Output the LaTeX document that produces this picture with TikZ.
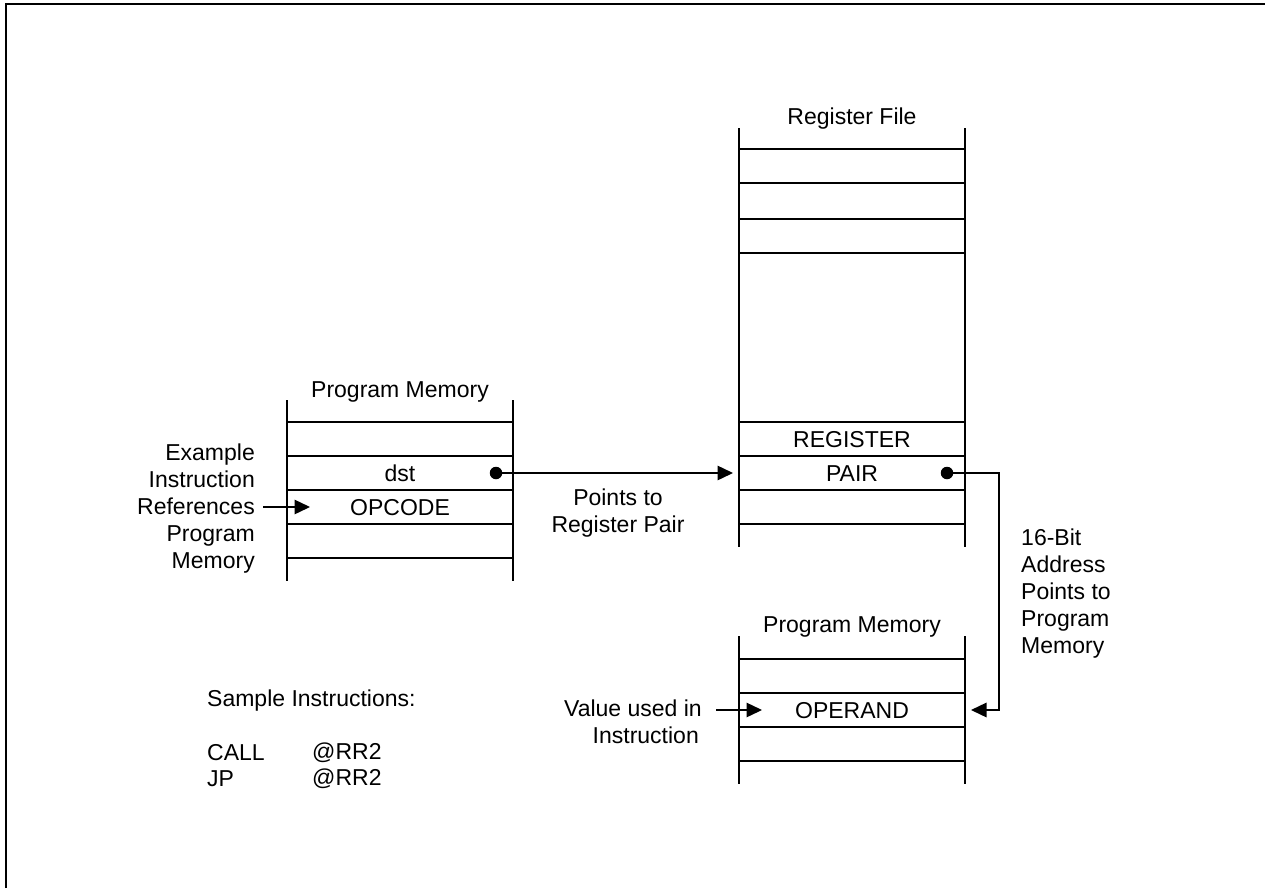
\documentclass[tikz,border=0pt]{standalone}
\usepackage{fontspec}
\setmainfont{Liberation Sans}
\usetikzlibrary{arrows.meta}
\tikzset{
 x=1pt,y=-1pt,
 rail/.style={line width=1.7pt,line cap=butt},
 row/.style={line width=1.4pt},
 frameline/.style={line width=2.2pt},
 wire/.style={line width=1.4pt},
 tip/.style={-{Triangle[length=15.5pt,width=14.5pt]}},
 dot/.style={circle,fill=black,inner sep=0pt,minimum size=12.5pt},
 txt/.style={inner sep=0pt,font=\fontsize{23}{27}\selectfont,text=black},
 cell/.style={txt,anchor=center},
 lab/.style={txt,align=right,anchor=east},
 labl/.style={txt,align=left,anchor=west},
}
\begin{document}
\begin{tikzpicture}
\useasboundingbox (0,0) rectangle (1265,888);
\draw[frameline] (6,888) -- (6,4) -- (1265,4);
% left memory
\draw[rail] (287,400) -- (287,581);
\draw[rail] (513,400) -- (513,581);
\foreach \y in {422,456,490,524,558} \draw[row] (287,\y) -- (513,\y);
\node[cell] (pm1) at (400,392) {Program Memory};
\node[cell] (dst) at (400,473) {dst};
\node[cell] (opc) at (400,508) {OPCODE};
\node[lab] (ex) at (255,509) {Example\\Instruction\\References\\Program\\Memory};
% register file
\draw[rail] (739,128) -- (739,547);
\draw[rail] (965,128) -- (965,547);
\foreach \y in {149,183,219,253,422,456,490,524} \draw[row] (739,\y) -- (965,\y);
\node[cell] (rf) at (852,119) {Register File};
\node[cell] (reg) at (852,440) {REGISTER};
\node[cell] (pair) at (852,474) {PAIR};
\node[txt,align=center] (pts) at (618,513) {Points to\\Register Pair};
% lower memory
\draw[rail] (739,636) -- (739,784);
\draw[rail] (965,636) -- (965,784);
\foreach \y in {659,693,727,761} \draw[row] (739,\y) -- (965,\y);
\node[cell] (pm2) at (852,627) {Program Memory};
\node[cell] (opd) at (852,711) {OPERAND};
\node[lab] (val) at (702,722) {Value used in\\Instruction\hspace*{3pt}};
\node[labl] (addr) at (1021,594) {16-Bit\\Address\\Points to\\Program\\Memory};
% sample
\node[labl] (si) at (207,701) {Sample Instructions:};
\node[labl] (c1) at (207,753) {CALL};
\node[labl] (c2) at (312,753) {@RR2};
\node[labl] (j1) at (207,779) {JP};
\node[labl] (j2) at (312,779) {@RR2};
% connectors
\node[dot] (d1) at (496,473) {};
\node[dot] (d2) at (947,473) {};
\coordinate (t1) at (733,473);
\draw[wire,tip] (d1.center) -- (t1);
\coordinate (a1) at (263,507); \coordinate (a2) at (310,507);
\draw[wire,tip] (a1) -- (a2);
\coordinate (b1) at (716,710); \coordinate (b2) at (762,710);
\draw[wire,tip] (b1) -- (b2);
\coordinate (e1) at (999,473); \coordinate (e2) at (999,710); \coordinate (e3) at (971,710);
\draw[wire,tip] (d2.center) -- (e1) -- (e2) -- (e3);
\end{tikzpicture}
\end{document}
